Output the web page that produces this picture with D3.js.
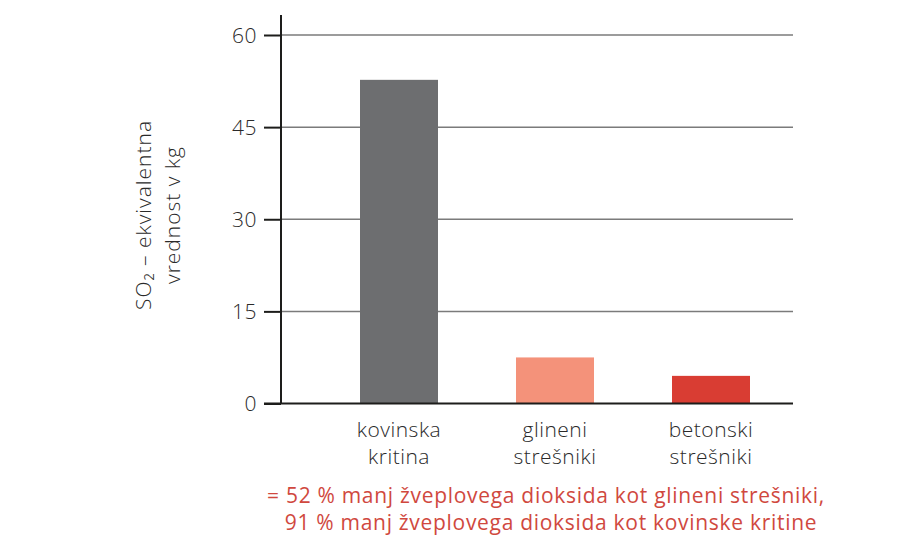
<!DOCTYPE html>
<html><head><meta charset="utf-8">
<script src="https://cdn.jsdelivr.net/npm/d3@7"></script>
<style>body{margin:0;background:#fff}svg{display:block}</style>
</head><body>
<script>
const categories = [["kovinska","kritina"],["glineni","strešniki"],["betonski","strešniki"]];
const values = [52.7, 7.5, 4.5];
const colors = ["#6d6e70", "#f4927a", "#d93d33"];
const yTicks = [0, 15, 30, 45, 60];
const yTitle = ["SO\u2082 \u2013 ekvivalentna", "vrednost v kg"];
const notes = ["= 52 % manj žveplovega dioksida kot glineni strešniki,", "91 % manj žveplovega dioksida kot kovinske kritine"];

const W = 899, H = 551;
const font = "'Open Sans', sans-serif";
const svg = d3.select("body").append("svg").attr("width", W).attr("height", H);

const x = d3.scaleBand().domain(d3.range(categories.length)).range([321, 789]).paddingInner(0.5).paddingOuter(0.25);
const y = d3.scaleLinear().domain([0, 60]).range([403.5, 35]);

// gridlines
svg.append("g").selectAll("line").data(yTicks.filter(d => d > 0)).join("line")
  .attr("x1", 281).attr("x2", 793).attr("y1", d => y(d)).attr("y2", d => y(d))
  .attr("stroke", "#7b7b7b").attr("stroke-width", 1.5);

// bars
svg.append("g").selectAll("rect").data(values).join("rect")
  .attr("x", (d, i) => x(i)).attr("width", x.bandwidth())
  .attr("y", d => y(d)).attr("height", d => y(0) - y(d))
  .attr("fill", (d, i) => colors[i]);

// y axis
const yAxis = svg.append("g").attr("transform", "translate(281,0)")
  .call(d3.axisLeft(y).tickValues(yTicks).tickSize(17).tickPadding(7));
yAxis.select(".domain").attr("d", `M0,${y(0)}V15`).attr("stroke", "#1d1d1b").attr("stroke-width", 2);
yAxis.selectAll(".tick line").attr("stroke", "#1d1d1b").attr("stroke-width", 2);
yAxis.selectAll(".tick text").attr("font-family", font).attr("font-weight", 300)
  .attr("font-size", 21).attr("letter-spacing", 0.5).attr("fill", "#2a2a2a").attr("dy", "0.35em");

// baseline
svg.append("line").attr("x1", 264).attr("x2", 793).attr("y1", y(0)).attr("y2", y(0))
  .attr("stroke", "#1d1d1b").attr("stroke-width", 2);

// category labels
const cl = svg.append("g").selectAll("text").data(categories).join("text")
  .attr("text-anchor", "middle").attr("font-family", font).attr("font-weight", 300)
  .attr("font-size", 21).attr("letter-spacing", 0.5).attr("fill", "#2a2a2a")
  .attr("transform", (d, i) => `translate(${x(i) + x.bandwidth() / 2},437)`);
cl.selectAll("tspan").data(d => d).join("tspan").attr("x", 0).attr("y", (d, j) => j * 26.5).text(d => d);

// y title
const yt = svg.append("text").attr("transform", "translate(157,215) rotate(-90)")
  .attr("text-anchor", "middle").attr("font-family", font).attr("font-weight", 300)
  .attr("font-size", 21).attr("letter-spacing", 1).attr("fill", "#2a2a2a");
yt.selectAll("tspan").data(yTitle).join("tspan").attr("x", 0).attr("y", (d, j) => -6 + j * 29).text(d => d);

// notes
svg.append("g").selectAll("text").data(notes).join("text")
  .attr("x", (d, i) => i === 0 ? 546 : 551).attr("y", (d, i) => 503 + i * 26.5)
  .attr("text-anchor", "middle").attr("font-family", font).attr("font-weight", 400)
  .attr("font-size", 21).attr("letter-spacing", 0.7).attr("fill", "#d0483e").text(d => d);
</script>
</body></html>
